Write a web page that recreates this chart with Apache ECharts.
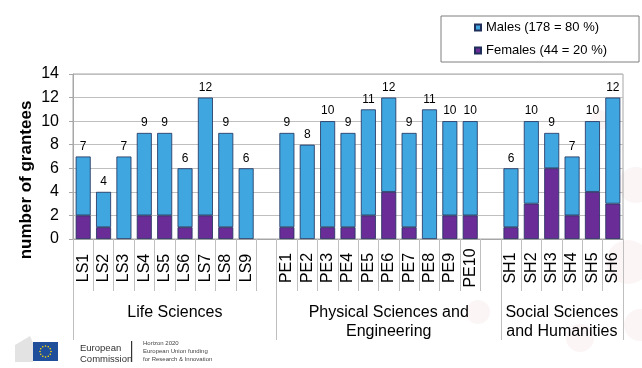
<!DOCTYPE html>
<html>
<head>
<meta charset="utf-8">
<script src="https://cdn.jsdelivr.net/npm/echarts@6/dist/echarts.min.js"></script>
<style>html,body{margin:0;padding:0;background:#fff}#c{width:642px;height:368px}</style>
</head>
<body>
<div id="c"></div>
<script>
// ---- data ----
const categories = ['LS1','LS2','LS3','LS4','LS5','LS6','LS7','LS8','LS9','',
  'PE1','PE2','PE3','PE4','PE5','PE6','PE7','PE8','PE9','PE10','',
  'SH1','SH2','SH3','SH4','SH5','SH6'];
const totals = [7,4,7,9,9,6,12,9,6,null,
  9,8,10,9,11,12,9,11,10,10,null,
  6,10,9,7,10,12];
const females = [2,1,0,2,2,1,2,1,0,null,
  1,0,1,1,2,4,1,0,2,2,null,
  1,3,6,2,4,3];
const groupNames = ['Life Sciences','Physical Sciences and\nEngineering','Social Sciences\nand Humanities'];
const groupSlots = [10, 11, 6]; // slots per group (incl. spacer slot)
const seriesNames = ['Males (178 = 80 %)','Females (44 = 20 %)'];
const yTicks = {min:0, max:14, interval:2};

const males = totals.map((t,i)=> t==null ? null : t - females[i]);
const femaleData = females.map(v => v === 0 ? {value:0, itemStyle:{borderWidth:0}} : v);

// group boundaries and centres in slot units
const bounds = [0]; groupSlots.forEach(s=>bounds.push(bounds[bounds.length-1]+s));
const centres = groupSlots.map((s,i)=> bounds[i] + s/2);

const FONT = '"Liberation Sans", Arial, sans-serif';
const chart = echarts.init(document.getElementById('c'), null, {renderer:'canvas'});

// decorative bits and logo
const stars = [];
for (let k=0;k<12;k++){
  const a = k*Math.PI/6;
  stars.push({type:'circle', shape:{cx:45.5+5.5*Math.cos(a), cy:351.5+5.5*Math.sin(a), r:0.8}, style:{fill:'#FFDD00'}, z:10});
}
const bgCircles = [[636,185,18],[628,262,22],[640,325,16],[580,338,14],[478,312,12],[600,120,10]].map(c=>({
  type:'circle', shape:{cx:c[0],cy:c[1],r:c[2]}, style:{fill:'#FBF5F6'}, z:-10, silent:true
}));

chart.setOption({
  animation:false,
  textStyle:{fontFamily:FONT},
  grid:{left:73, right:19, top:74, bottom:129, show:true, borderColor:'#A6A6A6', borderWidth:1, backgroundColor:'transparent'},
  legend:{
    orient:'vertical', left:441, top:16,
    padding:[5,32,5,33], itemGap:10, itemWidth:6, itemHeight:6,
    borderColor:'#7F7F7F', borderWidth:1, backgroundColor:'#fff',
    icon:'rect', data:[seriesNames[0], seriesNames[1]],
    textStyle:{fontSize:13, color:'#000', fontFamily:FONT}
  },
  xAxis:[
    {
      type:'category', data:categories, gridIndex:0, position:'bottom',
      axisLine:{lineStyle:{color:'#A6A6A6'}},
      axisTick:{show:true, interval:0, length:52, lineStyle:{color:'#BFBFBF'}},
      axisLabel:{interval:0, rotate:90, align:'center', verticalAlign:'middle', margin:29, fontSize:16, color:'#000', fontFamily:FONT}
    },
    {
      type:'value', min:0, max:bounds[bounds.length-1], gridIndex:0, position:'bottom',
      axisLine:{show:false}, splitLine:{show:false},
      axisTick:{show:true, customValues:bounds, length:101, lineStyle:{color:'#BFBFBF'}},
      axisLabel:{customValues:centres, margin:64, fontSize:16, lineHeight:19, color:'#000', fontFamily:FONT,
        formatter:(v)=>{ const i = centres.indexOf(v); return i>=0 ? groupNames[i] : ''; }}
    }
  ],
  yAxis:{
    type:'value', min:yTicks.min, max:yTicks.max, interval:yTicks.interval,
    axisLine:{show:true, lineStyle:{color:'#A6A6A6'}},
    axisTick:{show:true, length:4, lineStyle:{color:'#A6A6A6'}},
    axisLabel:{fontSize:16, color:'#000', margin:14, fontFamily:FONT},
    splitLine:{lineStyle:{color:'#BFBFBF'}}
  },
  graphic:[
    ...bgCircles,
    {type:'text', x:26, y:180, rotation:Math.PI/2,
      style:{text:'number of grantees', font:'bold 17px '+FONT, fill:'#000', align:'center', verticalAlign:'middle'}},
    {type:'polygon', shape:{points:[[15,362],[15,345],[30,336],[33,343],[33,362]]}, style:{fill:'#E3E3E3'}},
    {type:'rect', shape:{x:33, y:342, width:25, height:19}, style:{fill:'#1F4E9A'}},
    ...stars,
    {type:'text', x:80, y:348, style:{text:'European', font:'9.5px '+FONT, fill:'#333', verticalAlign:'middle'}},
    {type:'text', x:80, y:359, style:{text:'Commission', font:'9.5px '+FONT, fill:'#333', verticalAlign:'middle'}},
    {type:'rect', shape:{x:131, y:341, width:1.2, height:21}, style:{fill:'#333'}},
    {type:'text', x:143, y:343, style:{text:'Horizon 2020', font:'6px '+FONT, fill:'#444', verticalAlign:'middle'}},
    {type:'text', x:143, y:351, style:{text:'European Union funding', font:'6px '+FONT, fill:'#444', verticalAlign:'middle'}},
    {type:'text', x:143, y:359, style:{text:'for Research & Innovation', font:'6px '+FONT, fill:'#444', verticalAlign:'middle'}}
  ],
  series:[
    {
      name:seriesNames[1], type:'bar', stack:'g', data:femaleData, barWidth:15, xAxisIndex:0,
      itemStyle:{color:'#6A2D98', borderColor:'#1F2F5A', borderWidth:0.8}
    },
    {
      name:seriesNames[0], type:'bar', stack:'g', data:males, barWidth:15, xAxisIndex:0,
      itemStyle:{color:'#3FA6E0', borderColor:'#1F2F5A', borderWidth:0.8},
      label:{show:true, position:'top', distance:4, fontSize:12, color:'#000', fontFamily:FONT,
        formatter:(p)=> totals[p.dataIndex]==null ? '' : String(totals[p.dataIndex])}
    }
  ]
});
</script>
</body>
</html>
